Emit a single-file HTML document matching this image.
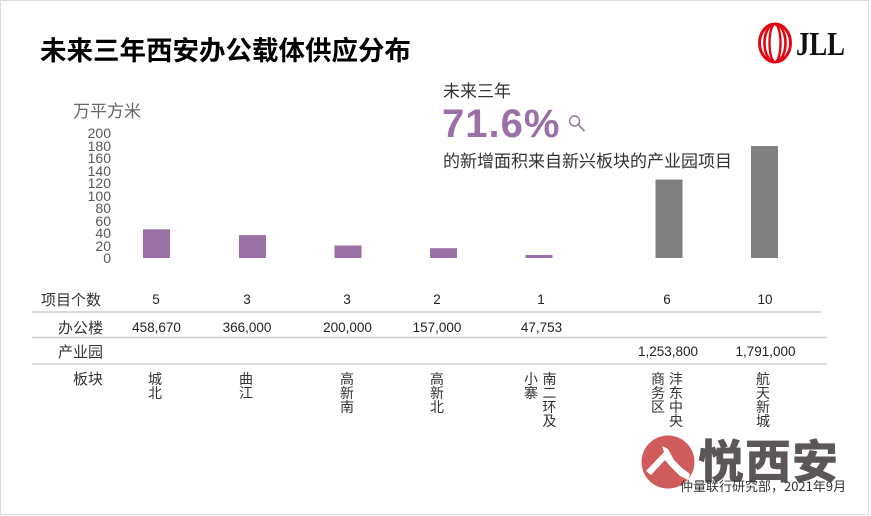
<!DOCTYPE html>
<html><head><meta charset="utf-8">
<style>
html,body{margin:0;padding:0;background:#fff;}
#c{position:relative;width:871px;height:516px;overflow:hidden;background:#fff;font-family:"Liberation Sans","Noto Sans CJK SC",sans-serif;}
.t{position:absolute;white-space:nowrap;}
.cjk{font-family:"Noto Sans CJK SC","WenQuanYi Zen Hei",sans-serif;}
.yl{position:absolute;left:60px;width:51px;text-align:right;font-size:14px;line-height:14px;color:#595959;}
.v{position:absolute;width:120px;text-align:center;font-size:13.5px;line-height:14px;color:#222;}
.rl{position:absolute;text-align:right;font-size:15px;line-height:15px;color:#333;font-family:"Noto Sans CJK SC",sans-serif;}
.vt{position:absolute;width:14px;font-size:14px;line-height:14px;color:#333;font-family:"Noto Sans CJK SC",sans-serif;text-align:center;white-space:normal;}
</style></head><body>
<div id="c">
<svg width="871" height="516" style="position:absolute;left:0;top:0">
  <rect x="0.5" y="0.5" width="868" height="514" fill="none" stroke="#dcdcdc" stroke-width="1"/>
  <!-- bars -->
  <rect x="143" y="229.3" width="27" height="28.7" fill="#9b70a6"/>
  <rect x="239" y="235.1" width="27" height="22.9" fill="#9b70a6"/>
  <rect x="334.5" y="245.5" width="27" height="12.5" fill="#9b70a6"/>
  <rect x="430" y="248.2" width="27" height="9.8" fill="#9b70a6"/>
  <rect x="525.5" y="255" width="27" height="3" fill="#9b70a6"/>
  <rect x="655.5" y="179.6" width="27" height="78.4" fill="#808080"/>
  <rect x="751" y="146.1" width="27" height="111.9" fill="#808080"/>
  <!-- table lines -->
  <line x1="32" y1="312" x2="821" y2="312" stroke="#cfcfcf" stroke-width="1.5"/>
  <line x1="32" y1="337.5" x2="827" y2="337.5" stroke="#cfcfcf" stroke-width="1.5"/>
  <line x1="32" y1="364" x2="827" y2="364" stroke="#cfcfcf" stroke-width="1.5"/>
  <!-- magnifier -->
  <circle cx="574.5" cy="121" r="5" fill="none" stroke="#9b70a6" stroke-width="1.4"/>
  <line x1="578" y1="124.5" x2="584.5" y2="131" stroke="#9b70a6" stroke-width="1.6"/>
  <!-- JLL logo -->
  <g fill="none" stroke="#e30613">
    <ellipse cx="775" cy="43" rx="15.5" ry="19" stroke-width="3"/>
    <ellipse cx="775" cy="43" rx="10.5" ry="19" stroke-width="2.6"/>
    <ellipse cx="775" cy="43" rx="5.5" ry="19" stroke-width="2.4"/>
  </g>
  <text x="796" y="55" font-family="Liberation Serif" font-weight="bold" font-size="34" fill="#111" textLength="49" lengthAdjust="spacingAndGlyphs">JLL</text>
  <!-- watermark circle -->
  <circle cx="668" cy="462" r="26.5" fill="#d05b5b"/>
  <path d="M646 471 L664 452 L662 446 L668 449 L674 460 L682 468 L690 474 L688 480 L680 476 L670 466 L665 460 L651 475 Z" fill="#fff"/>
</svg>

<div class="t cjk" style="left:40px;top:35px;font-size:26.5px;line-height:27px;font-weight:bold;color:#000;">未来三年西安办公载体供应分布</div>

<div class="t cjk" style="left:73px;top:101px;font-size:17px;line-height:17px;color:#666;">万平方米</div>

<div class="yl" style="top:126px">200</div>
<div class="yl" style="top:138.5px">180</div>
<div class="yl" style="top:151px">160</div>
<div class="yl" style="top:163.5px">140</div>
<div class="yl" style="top:176px">120</div>
<div class="yl" style="top:188.5px">100</div>
<div class="yl" style="top:201px">80</div>
<div class="yl" style="top:213.5px">60</div>
<div class="yl" style="top:226px">40</div>
<div class="yl" style="top:238.5px">20</div>
<div class="yl" style="top:251px">0</div>

<div class="t cjk" style="left:443px;top:81px;font-size:17px;line-height:17px;color:#333;">未来三年</div>
<div class="t" style="left:442px;top:104px;font-size:40px;line-height:40px;font-weight:bold;color:#9b70a6;letter-spacing:1px;">71.6%</div>
<div class="t cjk" style="left:443px;top:151px;font-size:17px;line-height:17px;color:#333;">的新增面积来自新兴板块的产业园项目</div>

<!-- table labels -->
<div class="rl" style="left:20px;width:81px;top:292px;">项目个数</div>
<div class="rl" style="left:20px;width:83px;top:320px;">办公楼</div>
<div class="rl" style="left:20px;width:83px;top:344px;">产业园</div>
<div class="rl" style="left:20px;width:83px;top:371px;">板块</div>

<!-- counts -->
<div class="v" style="left:96px;top:293px;">5</div>
<div class="v" style="left:187px;top:293px;">3</div>
<div class="v" style="left:287px;top:293px;">3</div>
<div class="v" style="left:377px;top:293px;">2</div>
<div class="v" style="left:481px;top:293px;">1</div>
<div class="v" style="left:607px;top:293px;">6</div>
<div class="v" style="left:705px;top:293px;">10</div>

<!-- office -->
<div class="v" style="left:96.5px;top:321px;">458,670</div>
<div class="v" style="left:187px;top:321px;">366,000</div>
<div class="v" style="left:287.5px;top:321px;">200,000</div>
<div class="v" style="left:377px;top:321px;">157,000</div>
<div class="v" style="left:481.5px;top:321px;">47,753</div>

<!-- industrial -->
<div class="v" style="left:608px;top:345px;">1,253,800</div>
<div class="v" style="left:705.5px;top:345px;">1,791,000</div>

<!-- vertical district names -->
<div class="vt" style="left:148px;top:372px;">城<br>北</div>
<div class="vt" style="left:239px;top:372px;">曲<br>江</div>
<div class="vt" style="left:340px;top:372px;">高<br>新<br>南</div>
<div class="vt" style="left:430px;top:372px;">高<br>新<br>北</div>
<div class="vt" style="left:524px;top:372px;">小<br>寨</div>
<div class="vt" style="left:542.5px;top:372px;">南<br>二<br>环<br>及</div>
<div class="vt" style="left:651px;top:372px;">商<br>务<br>区</div>
<div class="vt" style="left:669px;top:372px;">沣<br>东<br>中<br>央</div>
<div class="vt" style="left:756px;top:372px;">航<br>天<br>新<br>城</div>

<!-- watermark -->
<div class="t cjk" style="left:698px;top:436px;font-size:46px;line-height:46px;font-weight:900;color:#5b5657;letter-spacing:1px;">悦西安</div>
<div class="t cjk" style="left:680px;top:479px;font-size:13px;line-height:14px;color:#333;">仲量联行研究部，2021年9月</div>
</div>
</body></html>
